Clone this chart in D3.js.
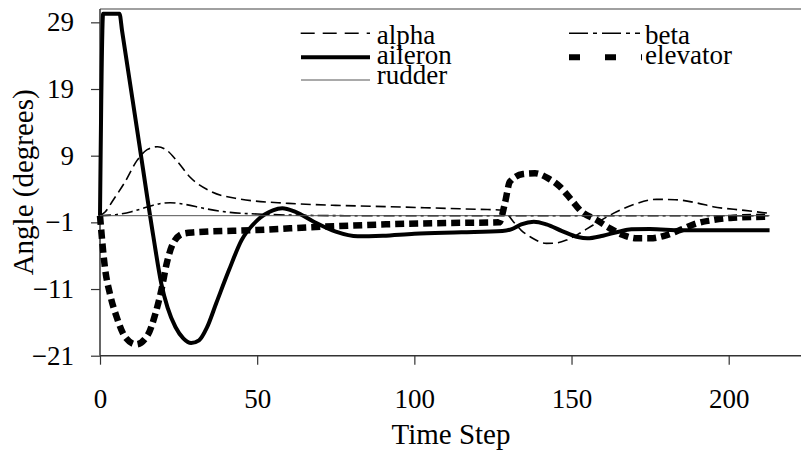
<!DOCTYPE html>
<html><head><meta charset="utf-8">
<script src="https://cdn.jsdelivr.net/npm/d3@7"></script>
<style>
html,body{margin:0;padding:0;background:#fff;}
</style></head>
<body>
<svg id="chart" width="801" height="456"></svg>
<script>
const xTicks = [0, 50, 100, 150, 200];
const yTicks = [-21, -11, -1, 9, 19, 29];
const seriesNames = ["alpha", "beta", "aileron", "elevator", "rudder"];

const alpha = [[0,0],[1.7,0.6],[4,2.2],[8,5.1],[11.8,8.3],[15,9.9],[18.3,10.35],[21,9.9],[24.5,8.2],[28.6,5.8],[35,3.7],[44.5,2.5],[60,1.85],[75,1.55],[92,1.35],[110,1.1],[121,0.95],[128,0.85],[131.5,-0.9],[134,-2.2],[136.8,-3.15],[142,-4.15],[145,-4.1],[148.4,-3.65],[152,-2.8],[156.9,-1.4],[163.3,0.35],[170,1.7],[177,2.45],[183,2.4],[190,1.9],[195,1.35],[205,0.8],[213,0.35]];
const beta = [[0,0],[5,0.15],[10,0.6],[15,1.3],[19,1.8],[22.3,1.95],[27,1.7],[33,1.1],[41.3,0.5],[50,0.25],[60,0.1],[80,0],[120,0],[160,0],[213,0]];
const aileron = [[0,0],[1,30.3],[6.2,30.3],[7,27.8],[12,12.3],[17,-3.2],[19.5,-10.2],[21.5,-13.8],[24,-16.7],[26.5,-18.4],[29,-19.1],[31.5,-18.7],[34,-16.8],[37,-13.1],[41,-8.2],[45,-3.7],[50,-0.7],[55,0.8],[58,1.1],[62,0.6],[68,-0.9],[75,-2.4],[82,-3.1],[90,-3.0],[100,-2.7],[115,-2.5],[128,-2.3],[131,-2.0],[134,-1.3],[138,-0.9],[142,-1.3],[147,-2.3],[152,-3.2],[155,-3.4],[160,-3.0],[165,-2.4],[169,-2.05],[175,-2.0],[185,-2.2],[200,-2.2],[213,-2.2]];
const elevator = [[0,0],[1.6,-7.9],[3.2,-11.8],[5.3,-15.2],[8,-18.2],[11.5,-19.3],[15.3,-17.8],[17.5,-14.9],[19.6,-11],[21.2,-7.2],[23.2,-4.2],[26.4,-2.7],[30,-2.5],[50,-2.15],[71,-1.65],[91,-1.3],[110,-1.1],[127,-1.0],[128.8,1.85],[130.4,5.1],[134.6,6.25],[138.4,6.35],[142.6,5.6],[146.3,4.35],[150,2.35],[153.2,0.6],[158,-0.65],[162.2,-1.9],[166.4,-2.9],[170.7,-3.4],[175,-3.4],[180.3,-2.9],[184.5,-2.15],[189.8,-1.15],[195,-0.65],[201.4,-0.3],[213,-0.15]];
const rudder = [[0,0],[213,0]];

const FONT = '"Liberation Serif"';
const FS = 27;
const FS_TITLE = 29;
const svg = d3.select("#chart");
const x = d3.scaleLinear().domain([0, 223]).range([100, 801]);
const y = d3.scaleLinear().domain([-21, 31]).range([355.7, 9]);

function styleText(sel, size) {
  return sel.style("font-family", FONT).style("font-size", (size || FS) + "px").attr("fill", "#000");
}

// top border
svg.append("line").attr("x1", 100).attr("x2", 801).attr("y1", y(31)).attr("y2", y(31))
  .attr("stroke", "#808080").attr("stroke-width", 1.5);

// axes
const yAxis = svg.append("g").attr("transform", "translate(100,0)")
  .call(d3.axisLeft(y).tickValues(yTicks).tickSize(9).tickPadding(17).tickFormat(d3.format("d")));
const xAxis = svg.append("g").attr("transform", `translate(0,${y(-21)})`)
  .call(d3.axisBottom(x).tickValues(xTicks).tickSize(9).tickPadding(24).tickFormat(d3.format("d")));
[yAxis, xAxis].forEach(g => {
  g.attr("font-family", null).attr("font-size", null);
  g.select(".domain").attr("stroke", "#333").attr("stroke-width", 1.5);
  g.selectAll(".tick line").attr("stroke", "#333").attr("stroke-width", 1.2);
  styleText(g.selectAll("text"));
});
yAxis.select(".domain").attr("d", `M0,${y(31)}V${y(-21)}`);
xAxis.select(".domain").attr("d", `M100,0H801`);

// titles
styleText(svg.append("text").attr("x", 451).attr("y", 444).attr("text-anchor", "middle"), FS_TITLE).text("Time Step");
styleText(svg.append("text").attr("transform", `translate(33,${(y(31)+y(-21))/2}) rotate(-90)`)
  .attr("text-anchor", "middle"), FS_TITLE).text("Angle (degrees)");

const line = d3.line().x(d => x(d[0])).y(d => y(d[1])).curve(d3.curveMonotoneX);

const styles = {
  alpha:    {w: 1.6, dash: "10,5", color: "#000"},
  beta:     {w: 1.6, dash: "11,4,3,4", color: "#000"},
  aileron:  {w: 4, dash: null, color: "#000"},
  elevator: {w: 6.5, dash: "9,5", color: "#000"},
  rudder:   {w: 1, dash: null, color: "#555"}
};
const dataMap = {alpha, beta, aileron, elevator, rudder};

const plot = svg.append("g");
seriesNames.forEach(name => {
  const s = styles[name];
  plot.append("path").datum(dataMap[name]).attr("d", line)
    .attr("fill", "none").attr("stroke", s.color).attr("stroke-width", s.w)
    .attr("stroke-dasharray", s.dash).attr("stroke-linecap", "butt").attr("stroke-linejoin", "round");
});

// legend
const legendItems = [
  {name: "alpha",    x1: 300.7, x2: 370, ly: 33.3, tx: 376.7, ty: 44.3, w: 1.6, dash: "14,8", color: "#000"},
  {name: "beta",     x1: 569,   x2: 640, ly: 33.3, tx: 645,   ty: 44.3, w: 1.6, dash: "19,5,4,5", color: "#000"},
  {name: "aileron",  x1: 301,   x2: 370, ly: 57.3, tx: 376.7, ty: 63.5, w: 4,   dash: null, color: "#000"},
  {name: "elevator", x1: 569,   x2: 642, ly: 57.3, tx: 645,   ty: 63.5, w: 6,   dash: "11,25", color: "#000"},
  {name: "rudder",   x1: 301,   x2: 370, ly: 80,   tx: 376.7, ty: 83.5, w: 1,   dash: null, color: "#555"}
];
const lg = svg.append("g");
legendItems.forEach(it => {
  lg.append("line").attr("x1", it.x1).attr("x2", it.x2).attr("y1", it.ly).attr("y2", it.ly)
    .attr("stroke", it.color).attr("stroke-width", it.w).attr("stroke-dasharray", it.dash);
  styleText(lg.append("text").attr("x", it.tx).attr("y", it.ty)).text(it.name);
});
</script>
</body></html>
